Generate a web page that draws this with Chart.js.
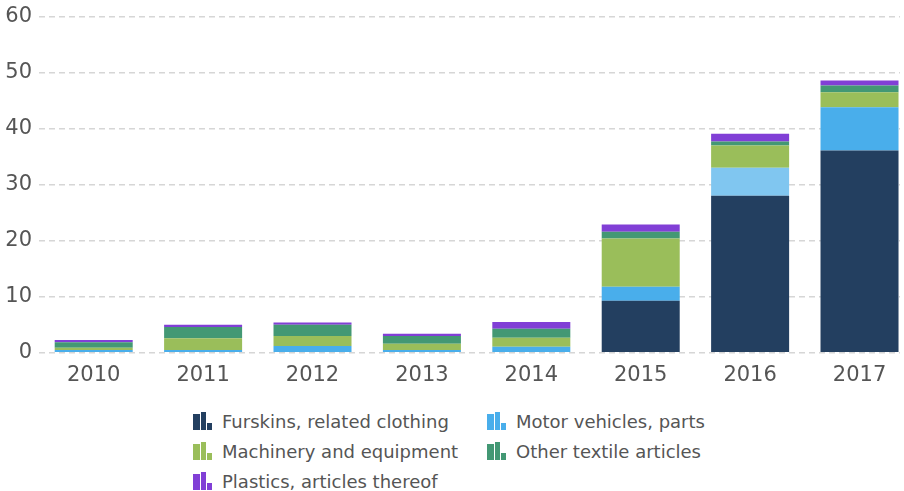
<!DOCTYPE html>
<html>
<head>
<meta charset="utf-8">
<script src="https://cdn.jsdelivr.net/npm/chart.js@4"></script>
<style>
  body { margin: 0; background: #fff; font-family: "DejaVu Sans", sans-serif; }
  #wrap { position: relative; width: 904px; height: 491px; }
  #box { position: absolute; left: 0; top: 0; width: 904px; height: 400px; }
  #legend { position: absolute; left: 193px; top: 406px; display: grid; grid-template-columns: 294px auto; row-gap: 0; }
  .item { display: flex; align-items: center; height: 30px; font-size: 18px; color: #555; white-space: nowrap; }
  .icon { display: flex; align-items: flex-end; width: 20px; height: 18px; margin-right: 9px; }
  .icon span { display: block; margin-right: 1px; }
</style>
</head>
<body>
<div id="wrap">
  <div id="box"><canvas id="bar-chart"></canvas></div>
  <div id="legend"></div>
</div>
<script>
const years = ['2010', '2011', '2012', '2013', '2014', '2015', '2016', '2017'];
const furskins = [0, 0, 0, 0, 0, 9.3, 28.0, 36.1];
const motorVehicles = [0.5, 0.5, 1.2, 0.5, 1.1, 2.5, 5.0, 7.7];
const machinery = [0.4, 2.1, 1.8, 1.1, 1.6, 8.6, 4.0, 2.7];
const otherTextile = [1.0, 2.0, 2.0, 1.4, 1.6, 1.2, 0.7, 1.2];
const plastics = [0.4, 0.4, 0.4, 0.4, 1.2, 1.3, 1.4, 0.9];
const yTicks = [0, 10, 20, 30, 40, 50, 60];

function points(values) {
    return values.map((v, i) => ({ x: i, y: v }));
}

// 2016 motor vehicles segment is shown highlighted (lighter) in the original
const motorColors = years.map((y, i) => i === 6 ? '#80c6f0' : '#49aeeb');

const htmlLegend = {
    id: 'htmlLegend',
    afterUpdate(chart) {
        const box = document.getElementById('legend');
        box.innerHTML = '';
        chart.data.datasets.forEach(ds => {
            const col = ds.legendColor;
            const item = document.createElement('div');
            item.className = 'item';
            const icon = document.createElement('div');
            icon.className = 'icon';
            [[7, 16], [6, 18], [5, 7]].forEach(([w, h]) => {
                const s = document.createElement('span');
                s.style.width = w + 'px';
                s.style.height = h + 'px';
                s.style.background = col;
                icon.appendChild(s);
            });
            item.appendChild(icon);
            item.appendChild(document.createTextNode(ds.label));
            box.appendChild(item);
        });
    }
};

new Chart(document.getElementById('bar-chart'), {
    type: 'bar',
    data: {
        datasets: [
            { label: 'Furskins, related clothing', data: points(furskins), backgroundColor: '#233f60', legendColor: '#233f60' },
            { label: 'Motor vehicles, parts', data: points(motorVehicles), backgroundColor: motorColors, legendColor: '#49aeeb' },
            { label: 'Machinery and equipment', data: points(machinery), backgroundColor: '#9abe5a', legendColor: '#9abe5a' },
            { label: 'Other textile articles', data: points(otherTextile), backgroundColor: '#439874', legendColor: '#439874' },
            { label: 'Plastics, articles thereof', data: points(plastics), backgroundColor: '#813fd6', legendColor: '#813fd6' }
        ]
    },
    options: {
        responsive: true,
        maintainAspectRatio: false,
        animation: false,
        layout: { padding: { top: 16.5, right: 4, bottom: 10, left: 0 } },
        datasets: {
            bar: { categoryPercentage: 1, barPercentage: 0.713, borderWidth: 0 }
        },
        scales: {
            x: {
                type: 'linear',
                stacked: true,
                offset: false,
                min: -0.5,
                max: 7.37,
                grid: { display: false, offset: false },
                border: { display: false },
                afterBuildTicks: axis => { axis.ticks = years.map((y, i) => ({ value: i })); },
                ticks: {
                    padding: 2,
                    color: '#555',
                    font: { family: 'DejaVu Sans', size: 21 },
                    maxRotation: 0,
                    autoSkip: false,
                    callback: v => years[v]
                }
            },
            y: {
                stacked: true,
                min: 0,
                max: 60,
                afterFit: axis => {
                    axis.width = 39;
                    axis.paddingTop = 0;
                    axis.paddingBottom = 0;
                },
                afterBuildTicks: axis => { axis.ticks = yTicks.map(v => ({ value: v })); },
                grid: { color: '#d6d6d6', lineWidth: 1.5, drawTicks: false },
                border: { display: false, dash: [6, 4] },
                ticks: {
                    padding: 7,
                    color: '#555',
                    font: { family: 'DejaVu Sans', size: 21 }
                }
            }
        },
        plugins: {
            legend: { display: false },
            tooltip: { enabled: false }
        }
    },
    plugins: [htmlLegend]
});
</script>
</body>
</html>
